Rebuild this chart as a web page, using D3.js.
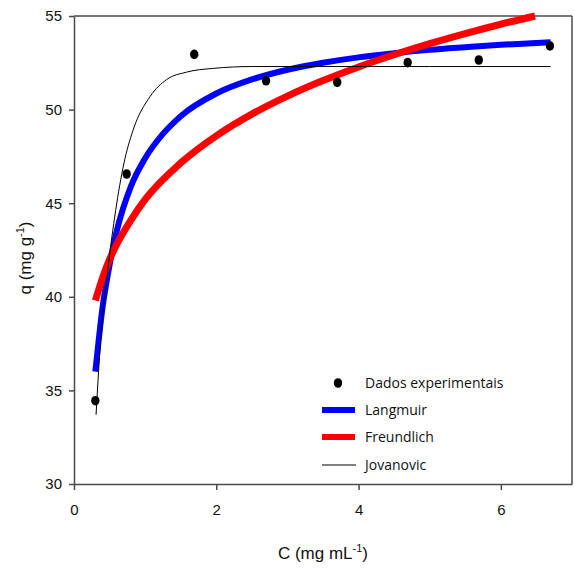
<!DOCTYPE html>
<html>
<head>
<meta charset="utf-8">
<script src="https://cdn.jsdelivr.net/npm/d3@7"></script>
<style>
body { margin: 0; background: #fff; }
svg { display: block; }
</style>
</head>
<body>
<div class="chart"></div>
<script>
// experimental points (C in mg/mL, q in mg/g)
var expC = [0.30, 0.74, 1.69, 2.70, 3.70, 4.69, 5.69, 6.69];
var expQ = [34.45, 46.56, 52.95, 51.54, 51.46, 52.51, 52.65, 53.40];

// fitted curves
var langC = [0.30, 0.40, 0.50, 0.60, 0.80, 1.00, 1.25, 1.50, 2.00, 2.50, 3.00, 3.50, 4.00, 4.50, 5.00, 5.50, 6.00, 6.50, 6.70];
var langQ = [36.0, 39.4, 41.7, 43.5, 45.9, 47.4, 48.7, 49.65, 50.86, 51.61, 52.13, 52.50, 52.79, 53.01, 53.19, 53.33, 53.46, 53.56, 53.6];

var freuC = [0.30, 0.40, 0.50, 0.60, 0.80, 1.00, 1.50, 2.00, 2.50, 3.00, 3.50, 4.00, 4.50, 5.00, 5.50, 6.00, 6.48];
var freuQ = [39.8, 41.0, 42.0, 42.8, 44.1, 45.2, 47.15, 48.6, 49.76, 50.72, 51.55, 52.28, 52.93, 53.52, 54.06, 54.56, 55.0];

var jovC = [0.31, 0.38, 0.48, 0.585, 0.70, 0.83, 1.07, 1.30, 1.58, 1.95, 2.50, 3.50, 5.00, 6.70];
var jovQ = [33.7, 38.0, 41.6, 44.6, 47.1, 48.9, 50.7, 51.6, 52.0, 52.2, 52.3, 52.3, 52.3, 52.3];

var xTicks = [0, 2, 4, 6];
var yTicks = [30, 35, 40, 45, 50, 55];

var legendNames = ["Dados experimentais", "Langmuir", "Freundlich", "Jovanovic"];

var svg_w = 574, svg_h = 568;
var pLeft = 74, pRight = 572, pTop = 16, pBottom = 484;

var svg = d3.select("div.chart").append("svg")
.attr("width", svg_w)
.attr("height", svg_h);

var x = d3.scaleLinear().domain([0, 7]).range([pLeft, pRight]);
var y = d3.scaleLinear().domain([30, 55]).range([pBottom, pTop]);

var axisColor = "#4a4a4a";
var tickFont = "'Liberation Sans', Arial, sans-serif";

// frame top + right
svg.append("line")
.attr("x1", pLeft).attr("x2", pRight).attr("y1", pTop).attr("y2", pTop)
.attr("stroke", axisColor).attr("stroke-width", 1.5);
svg.append("line")
.attr("x1", pRight).attr("x2", pRight).attr("y1", pTop).attr("y2", pBottom)
.attr("stroke", axisColor).attr("stroke-width", 1.5);

// axes
var xAxis = svg.append("g")
.attr("transform", "translate(0," + pBottom + ")")
.call(d3.axisBottom(x).tickValues(xTicks).tickFormat(d3.format("d"))
	.tickSize(6).tickSizeOuter(0).tickPadding(14));
var yAxis = svg.append("g")
.attr("transform", "translate(" + pLeft + ",0)")
.call(d3.axisLeft(y).tickValues(yTicks).tickFormat(d3.format("d"))
	.tickSize(5).tickSizeOuter(0).tickPadding(7));

[xAxis, yAxis].forEach(function(g) {
	g.select(".domain").attr("stroke", axisColor).attr("stroke-width", 1.5);
	g.selectAll(".tick line").attr("stroke", axisColor).attr("stroke-width", 1.5);
	g.selectAll(".tick text")
	.attr("fill", "#111")
	.style("font-family", tickFont)
	.style("font-size", "15px");
});

function pts(cs, qs) {
	return cs.map(function(c, i) { return [c, qs[i]]; });
}

var line = d3.line()
.x(function(d) { return x(d[0]); })
.y(function(d) { return y(d[1]); })
.curve(d3.curveMonotoneX);

// Langmuir
svg.append("path")
.datum(pts(langC, langQ))
.attr("d", line)
.attr("fill", "none")
.attr("stroke", "#0000ff")
.attr("stroke-width", 6);

// Freundlich
svg.append("path")
.datum(pts(freuC, freuQ))
.attr("d", line)
.attr("fill", "none")
.attr("stroke", "#ff0000")
.attr("stroke-width", 7);

// Jovanovic
svg.append("path")
.datum(pts(jovC, jovQ))
.attr("d", line)
.attr("fill", "none")
.attr("stroke", "#000")
.attr("stroke-width", 1);

// experimental points
svg.selectAll("ellipse.pt")
.data(pts(expC, expQ))
.enter()
.append("ellipse")
.attr("class", "pt")
.attr("cx", function(d) { return x(d[0]); })
.attr("cy", function(d) { return y(d[1]); })
.attr("rx", 4.2)
.attr("ry", 4.8)
.attr("fill", "#000");

// legend
var lg = svg.append("g");
var legY = [383, 410, 437, 465];
var legendFont = "'Open Sans', 'Liberation Sans', sans-serif";

lg.append("ellipse")
.attr("cx", 338).attr("cy", legY[0])
.attr("rx", 4.2).attr("ry", 4.8).attr("fill", "#000");
lg.append("line")
.attr("x1", 322).attr("x2", 355).attr("y1", legY[1]).attr("y2", legY[1])
.attr("stroke", "#0000ff").attr("stroke-width", 6);
lg.append("line")
.attr("x1", 322).attr("x2", 355).attr("y1", legY[2]).attr("y2", legY[2])
.attr("stroke", "#ff0000").attr("stroke-width", 6);
lg.append("line")
.attr("x1", 322).attr("x2", 356).attr("y1", legY[3]).attr("y2", legY[3])
.attr("stroke", "#000").attr("stroke-width", 1);

lg.selectAll("text")
.data(legendNames)
.enter()
.append("text")
.attr("x", 365)
.attr("y", function(d, i) { return legY[i] + 5; })
.style("font-family", legendFont)
.style("font-size", "14px")
.attr("fill", "#111")
.text(function(d) { return d; });

// axis titles
var xt = svg.append("text")
.attr("x", 323)
.attr("y", 559)
.attr("text-anchor", "middle")
.style("font-family", tickFont)
.style("font-size", "17px")
.attr("fill", "#111");
xt.append("tspan").text("C (mg mL");
xt.append("tspan").attr("dy", -7).style("font-size", "11px").text("-1");
xt.append("tspan").attr("dy", 7).text(")");

var yt = svg.append("text")
.attr("transform", "translate(31," + 258 + ") rotate(-90)")
.attr("text-anchor", "middle")
.style("font-family", tickFont)
.style("font-size", "17px")
.attr("fill", "#111");
yt.append("tspan").text("q (mg g");
yt.append("tspan").attr("dy", -7).style("font-size", "11px").text("-1");
yt.append("tspan").attr("dy", 7).text(")");
</script>
</body>
</html>
